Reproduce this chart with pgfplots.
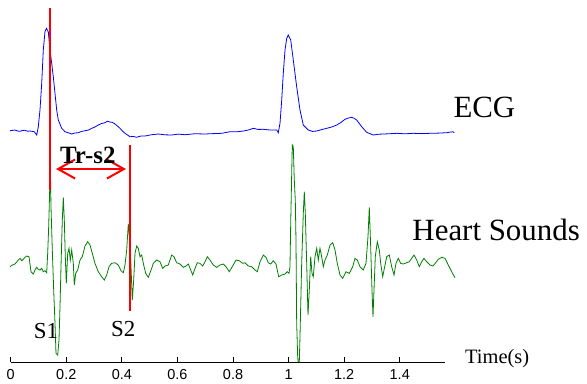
\documentclass[border=0pt]{standalone}
\usepackage{fontspec}
\setmainfont{Liberation Serif}
\setsansfont{Liberation Sans}
\usepackage{pgfplots}
\pgfplotsset{compat=1.18}
\usetikzlibrary{arrows.meta}
\definecolor{ecgblue}{RGB}{0,0,255}
\definecolor{hsgreen}{RGB}{0,128,0}
\begin{document}
\begin{tikzpicture}
\begin{axis}[
  scale only axis,
  width=434.3bp, height=362bp,
  xmin=0, xmax=1.563,
  ymin=21, ymax=383,
  axis x line=bottom,
  axis y line=none,
  x axis line style={-, line width=0.8bp},
  xtick={0,0.2,0.4,0.6,0.8,1,1.2,1.4},
  xticklabels={0,0.2,0.4,0.6,0.8,1,1.2,1.4},
  ytick=\empty,
  xticklabel style={font=\sffamily\fontsize{14.5}{16}\selectfont, inner sep=0pt, yshift=-7bp},
  major tick length=5bp,
  tick align=inside,
  tick style={black, line width=0.8bp},
  clip=false,
]
% ECG
\addplot[ecgblue, line width=0.8bp] coordinates {
(-0.0025,252.3) (0.0155,253) (0.0250,252.0) (0.0335,251.7) (0.0420,252.6) (0.0515,252.7) (0.0600,251.8) (0.0694,252) (0.0849,251.3) (0.0936,248)
(0.0993,256.3) (0.1054,273) (0.1116,299.7) (0.1173,333) (0.1234,351.3) (0.1265,353.5) (0.1295,354.7) (0.1320,352.5) (0.1353,351.3) (0.1414,333)
(0.1475,319.7) (0.1533,306.3) (0.1594,289.7) (0.1655,273) (0.1713,263) (0.1835,254.7) (0.1954,251.3) (0.2075,250.2) (0.2195,249) (0.2310,250.0)
(0.2433,250.3) (0.2550,251.6) (0.2674,252.3) (0.2800,253.0) (0.2915,254.7) (0.3030,256.0) (0.3152,258) (0.3270,259.5) (0.3393,260.3) (0.3480,261.8) (0.3573,261)
(0.3660,260.6) (0.3753,259) (0.3840,257.0) (0.3933,254.7) (0.4020,252.0) (0.4113,249.7) (0.4293,246.3) (0.4420,246.5) (0.4534,245.7) (0.4680,247.0) (0.4833,247)
(0.5070,248.3) (0.5311,249) (0.5550,248.2) (0.5793,248) (0.6030,248.9) (0.6272,248.3) (0.6630,249.3) (0.6992,249) (0.7300,249.4) (0.7593,249.7)
(0.7891,251.3) (0.8130,251.2) (0.8370,252) (0.8550,253.0) (0.8730,254.7) (0.8900,253.6) (0.9090,253.7) (0.9330,253.0) (0.9572,253) (0.9629,250.3)
(0.9691,259.7) (0.9752,283) (0.9809,309.7) (0.9871,333) (0.9932,344.7) (0.9989,348) (1.0076,343) (1.0169,323) (1.0291,296.3) (1.0410,273)
(1.0529,258) (1.0709,253) (1.0860,251.6) (1.1011,252) (1.1190,253.4) (1.1371,254.7) (1.1550,256.0) (1.1731,258) (1.1880,260.5) (1.2029,263.7)
(1.2150,265.0) (1.2271,265.7) (1.2350,264.8) (1.2450,263) (1.2630,256.3) (1.2810,250.7) (1.3048,248) (1.3230,248.8) (1.3408,249)
(1.3650,249.3) (1.3890,249.7) (1.4190,249.2) (1.4487,249.7) (1.4790,249.4) (1.5088,249.7) (1.5400,249.9) (1.5689,250.3) (1.5905,251.3) (1.5962,250.3)
};
% Heart sounds
\addplot[hsgreen, line width=0.8bp] coordinates {
(-0.0025,116.3) (0.0058,118) (0.0155,119) (0.0252,122.3) (0.0335,124.7) (0.0396,122.3) (0.0453,123.7) (0.0515,125.7) (0.0576,127) (0.0659,126.3)
(0.0730,111.3) (0.0813,109) (0.0874,113) (0.0936,115.7) (0.0993,113.7) (0.1054,113) (0.1116,114.7) (0.1173,111.3) (0.1234,112.3) (0.1295,110.3)
(0.1331,129.7) (0.1367,156.3) (0.1403,193) (0.1425,220) (0.1450,176.3) (0.1497,133) (0.1547,93) (0.1594,59.7) (0.1630,29.7) (0.1691,28)
(0.1738,43) (0.1774,76.3) (0.1810,116.3) (0.1857,163) (0.1893,185.7) (0.1929,163) (0.1965,126.3) (0.2001,99.7) (0.2051,129.7) (0.2098,134.7)
(0.2145,123) (0.2195,133) (0.2253,119.7) (0.2289,98) (0.2339,109.7) (0.2411,113) (0.2494,123) (0.2576,126.3) (0.2674,137) (0.2771,141.3)
(0.2854,138) (0.2936,129.7) (0.3033,119.7) (0.3152,111.3) (0.3275,106.3) (0.3368,103) (0.3454,108) (0.3537,116.3) (0.3634,119.7) (0.3753,120.3)
(0.3872,118) (0.3969,112.3) (0.4052,110.3) (0.4113,118) (0.4174,133) (0.4232,159) (0.4282,143) (0.4329,116.3) (0.4376,83) (0.4426,103)
(0.4473,129.7) (0.4534,137) (0.4592,134.7) (0.4653,126.3) (0.4714,128) (0.4772,119.7) (0.4858,109.7) (0.4951,105.7) (0.5074,114.7) (0.5131,119.7)
(0.5254,123) (0.5372,121.3) (0.5470,114.7) (0.5552,117) (0.5671,118) (0.5793,128) (0.5876,126.3) (0.5973,120.3) (0.6092,119) (0.6211,115.7)
(0.6308,117) (0.6391,119) (0.6477,113) (0.6549,108) (0.6632,114.7) (0.6715,120.3) (0.6812,119.7) (0.6909,117) (0.6992,121.3) (0.7075,126.3)
(0.7172,123) (0.7290,118) (0.7413,115.7) (0.7532,118) (0.7650,119) (0.7747,116.3) (0.7866,111.3) (0.7988,117) (0.8107,123) (0.8226,122.3)
(0.8348,119.7) (0.8431,120.3) (0.8550,117) (0.8672,116.3) (0.8791,113) (0.8874,111.3) (0.8971,121.3) (0.9090,128) (0.9187,125.7) (0.9270,120.3)
(0.9356,119) (0.9449,122.3) (0.9547,119) (0.9644,106.3) (0.9752,108) (0.9871,109) (0.9953,111.3) (1.0014,109.7) (1.0050,116.3) (1.0076,159.7)
(1.0112,209.7) (1.0133,238) (1.0169,236.3) (1.0205,203) (1.0241,183) (1.0266,143) (1.0291,59.7) (1.0327,26.3) (1.0345,21) (1.0385,21)
(1.0410,46.3) (1.0471,119.7) (1.0529,169.7) (1.0565,191.3) (1.0601,169.7) (1.0651,119.7) (1.0698,68) (1.0745,93) (1.0795,126.3) (1.0842,109.7)
(1.0889,106.3) (1.0950,126.3) (1.1011,134.7) (1.1069,123) (1.1130,134.7) (1.1191,126.3) (1.1249,116.3) (1.1310,123) (1.1393,128) (1.1490,138)
(1.1587,140.3) (1.1670,133) (1.1752,119.7) (1.1850,108) (1.1947,104.7) (1.2066,111.3) (1.2184,109.7) (1.2307,116.3) (1.2389,124.7) (1.2472,123)
(1.2569,116.3) (1.2688,113) (1.2785,119.7) (1.2857,146.3) (1.2904,175.7) (1.2954,136.3) (1.3001,93) (1.3037,66.3) (1.3073,93) (1.3120,126.3)
(1.3192,141.3) (1.3264,133) (1.3314,119.7) (1.3386,106.3) (1.3458,116.3) (1.3530,126.3) (1.3624,128) (1.3710,116.3) (1.3793,108) (1.3865,119.7)
(1.3947,124.7) (1.4034,119.7) (1.4127,119) (1.4250,120.3) (1.4343,121.3) (1.4430,124.7) (1.4513,128) (1.4610,123) (1.4703,116.3) (1.4790,121.3)
(1.4872,124.7) (1.4970,121.3) (1.5088,118) (1.5185,117) (1.5279,119.7) (1.5387,123.7) (1.5509,125.7) (1.5628,124.7) (1.5747,118) (1.5869,111.3)
(1.5988,105.3)
};
% red markers
\addplot[red, line width=2bp] coordinates {(0.1403,374.7) (0.1403,193)};
\addplot[red, line width=2bp] coordinates {(0.4275,238) (0.4275,72)};
\addplot[red, line width=2bp, {Straight Barb[length=17bp,width=19bp]}-{Straight Barb[length=17bp,width=19bp]}] coordinates {(0.163,214) (0.4149,214)};
% labels
\node[anchor=base west, inner sep=0pt, font=\fontsize{31}{34}\selectfont] at (axis cs:1.5927,265.7) {ECG};
\node[anchor=base west, inner sep=0pt, font=\fontsize{31}{34}\selectfont] at (axis cs:1.4451,143) {Heart Sounds};
\node[anchor=base west, inner sep=0pt, font=\fontsize{20.5}{23}\selectfont] at (axis cs:1.6348,19.7) {Time(s)};
\node[anchor=base west, inner sep=0pt, font=\fontsize{23}{26}\selectfont] at (axis cs:0.0831,44.7) {S1};
\node[anchor=base west, inner sep=0pt, font=\fontsize{23}{26}\selectfont] at (axis cs:0.3609,47) {S2};
\node[anchor=base west, inner sep=0pt, font=\bfseries\fontsize{25}{28}\selectfont] at (axis cs:0.1774,220) {Tr-s2};
\coordinate (bl) at (axis cs:-0.0385,0);
\coordinate (tr) at (axis cs:2.0738,383);
\end{axis}
\pgfresetboundingbox
\path (bl) rectangle (tr);
\end{tikzpicture}
\end{document}
